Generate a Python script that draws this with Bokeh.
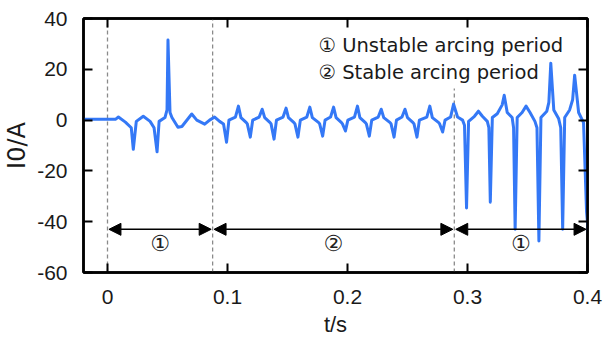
from bokeh.plotting import figure
from bokeh.models import (Range1d, LinearAxis, FixedTicker, Arrow, NormalHead,
                          ColumnDataSource)
from bokeh.core.properties import value
from bokeh.embed import file_html
from bokeh.resources import INLINE

# ---------------- data ----------------
t_s = [
    -0.0200, 0.0066, 0.0091, 0.0149, 0.0198, 0.0215, 0.0240, 0.0298, 0.0355, 0.0388,
    0.0413, 0.0430, 0.0479, 0.0496, 0.0504, 0.0521, 0.0537, 0.0587, 0.0620, 0.0702,
    0.0744, 0.0810, 0.0851, 0.0893, 0.0934,
    0.0967, 0.0992, 0.1012, 0.1066, 0.1091, 0.1112, 0.1157,
    0.1165, 0.1190, 0.1210, 0.1264, 0.1289, 0.1310, 0.1355,
    0.1363, 0.1388, 0.1408, 0.1463, 0.1488, 0.1508, 0.1554,
    0.1562, 0.1587, 0.1607, 0.1661, 0.1686, 0.1707, 0.1760,
    0.1768, 0.1793, 0.1813, 0.1859, 0.1884, 0.1905, 0.1950,
    0.1958, 0.1983, 0.2003, 0.2058, 0.2083, 0.2103, 0.2149,
    0.2157, 0.2182, 0.2202, 0.2256, 0.2281, 0.2302, 0.2355,
    0.2363, 0.2388, 0.2408, 0.2454, 0.2479, 0.2500, 0.2546,
    0.2554, 0.2579, 0.2599, 0.2661, 0.2686, 0.2707, 0.2760,
    0.2768, 0.2793, 0.2813, 0.2859, 0.2884,
    0.2917, 0.2959, 0.2975, 0.2992, 0.3009, 0.3058, 0.3091, 0.3124, 0.3165, 0.3178,
    0.3190, 0.3207, 0.3248, 0.3289, 0.3306, 0.3331, 0.3372, 0.3384, 0.3397, 0.3414,
    0.3455, 0.3488, 0.3521, 0.3562, 0.3579, 0.3595, 0.3612, 0.3661, 0.3678, 0.3694,
    0.3719, 0.3760, 0.3777, 0.3793, 0.3810, 0.3851, 0.3876, 0.3893, 0.3926, 0.3967,
    0.3992, 0.4008,
]
i0_a = [
    0.3, 0.3, 1.2, -0.8, -3.0, -11.5, -0.5, 1.5, -0.5, -3.0,
    -12.5, -0.5, 1.0, 4.0, 31.5, 3.0, 1.0, -2.8, -2.5, 2.4,
    0.0, -1.6, 0.0, 1.2, -0.5,
    -1.5, -8.7, 0.0, 1.2, 5.5, 1.0, -1.0,
    -1.5, -6.7, 0.0, 1.2, 4.3, 1.0, -1.0,
    -1.5, -7.5, 0.0, 1.2, 4.7, 1.0, -1.0,
    -1.5, -6.7, 0.0, 1.2, 5.1, 1.0, -1.0,
    -1.5, -6.3, 0.0, 1.2, 5.1, 1.0, -1.0,
    -1.5, -4.3, 0.0, 1.2, 5.5, 1.0, -1.0,
    -1.5, -6.3, 0.0, 1.2, 4.3, 1.0, -1.0,
    -1.5, -6.7, 0.0, 1.2, 4.3, 1.0, -1.0,
    -1.5, -6.7, 0.0, 1.2, 5.5, 1.0, -1.0,
    -1.5, -4.7, 0.0, 1.2, 6.3,
    1.2, 0.0, -2.0, -34.6, -0.5, 1.5, 3.5, 1.5, -0.5, -3.0,
    -32.3, 1.0, 2.5, 6.0, 9.8, 3.0, 1.0, -3.0, -43.0, 1.0,
    3.0, 5.5, 3.0, -0.5, -3.0, -47.6, 1.0, 3.5, 7.0, 22.4,
    4.0, 0.5, -3.0, -43.0, 1.0, 4.0, 8.0, 17.7, 3.0, -1.0,
    -36.0, -45.0,
]

x_ticks = [0, 0.1, 0.2, 0.3, 0.4]
x_tick_labels = ["0", "0.1", "0.2", "0.3", "0.4"]
y_ticks = [-60, -40, -20, 0, 20, 40]
y_tick_labels = ["-60", "-40", "-20", "0", "20", "40"]

period_bounds = [0.0, 0.0876, 0.289, 0.4]     # boundaries of arcing periods
period_marks = ["\u2460", "\u2461", "\u2460"]
legend_lines = ["\u2460 Unstable arcing period", "\u2461 Stable arcing period"]

# ---------------- figure ----------------
p = figure(width=605, height=339, output_backend="svg", toolbar_location=None,
           x_range=Range1d(-0.02, 0.4), y_range=Range1d(-60, 40),
           min_border_left=83, min_border_right=18, min_border_top=18,
           min_border_bottom=67)
p.background_fill_color = "white"
p.border_fill_color = "white"
p.grid.visible = False
p.outline_line_color = "black"
p.outline_line_width = 2.5

tick_font = "Liberation Sans"

def style_axis(ax, show_labels):
    ax.axis_line_color = "black"
    ax.axis_line_width = 2.5
    ax.major_tick_in = 9
    ax.major_tick_out = 0
    ax.major_tick_line_width = 2
    ax.major_tick_line_color = "black"
    ax.minor_tick_line_color = None
    if show_labels:
        ax.major_label_text_font = tick_font
        ax.major_label_text_font_size = "21px"
        ax.major_label_text_color = "#1a1a1a"
    else:
        ax.major_label_text_font_size = "1px"
        ax.major_label_text_color = None
        ax.major_label_standoff = 0

p.xaxis.ticker = FixedTicker(ticks=x_ticks)
p.yaxis.ticker = FixedTicker(ticks=y_ticks)
p.xaxis.major_label_overrides = {float(k): v for k, v in zip(x_ticks, x_tick_labels)}
p.yaxis.major_label_overrides = {float(k): v for k, v in zip(y_ticks, y_tick_labels)}
style_axis(p.xaxis[0], True)
style_axis(p.yaxis[0], True)
p.xaxis.major_label_standoff = 17
p.yaxis.major_label_standoff = 16

p.xaxis.axis_label = "t/s"
p.yaxis.axis_label = "I0/A"
p.xaxis.axis_label_text_font = tick_font
p.yaxis.axis_label_text_font = "DejaVu Sans"
p.xaxis.axis_label_text_font_size = "22px"
p.yaxis.axis_label_text_font_size = "24px"
for ax in (p.xaxis[0], p.yaxis[0]):
    ax.axis_label_text_font_style = "normal"
    ax.axis_label_text_color = "#1a1a1a"
p.xaxis.axis_label_standoff = 5
p.yaxis.axis_label_standoff = 3

top = LinearAxis(ticker=FixedTicker(ticks=x_ticks))
right = LinearAxis(ticker=FixedTicker(ticks=y_ticks))
style_axis(top, False)
style_axis(right, False)
p.add_layout(top, "above")
p.add_layout(right, "right")

# dashed boundaries
dash_x = period_bounds[:3]
dash_top = [40, 40, 12.4]
p.segment(x0=dash_x, y0=[-60] * 3, x1=dash_x, y1=dash_top,
          line_color="#8a8a8a", line_width=1.3, line_dash="4 3")

# waveform
p.line(t_s, i0_a, line_color="#3478f6", line_width=3, line_join="round")

# arrows
gap = 0.0012
arr = ColumnDataSource(dict(
    x0=[b + gap for b in period_bounds[:3]],
    x1=[b - gap for b in period_bounds[1:]],
    y=[-43.0] * 3,
))
p.add_layout(Arrow(
    start=NormalHead(size=12, fill_color="black", line_color="black", line_width=1),
    end=NormalHead(size=12, fill_color="black", line_color="black", line_width=1),
    x_start="x0", y_start="y", x_end="x1", y_end="y",
    source=arr, line_color="black", line_width=1.6))

mid = [(a + b) / 2 for a, b in zip(period_bounds[:3], period_bounds[1:])]
p.text(x=mid, y=[-48.6] * 3, text=period_marks,
       text_font=value("DejaVu Sans"), text_font_size="22px",
       text_align="center", text_baseline="middle", text_color="#222222")

# legend-like text
p.text(x=[0.1758, 0.1758], y=[29.4, 18.7], text=legend_lines,
       text_font=value("DejaVu Sans"), text_font_size="19.5px",
       text_align="left", text_baseline="middle", text_color="#1a1a1a")

open("out.html", "w").write(file_html(p, INLINE))
